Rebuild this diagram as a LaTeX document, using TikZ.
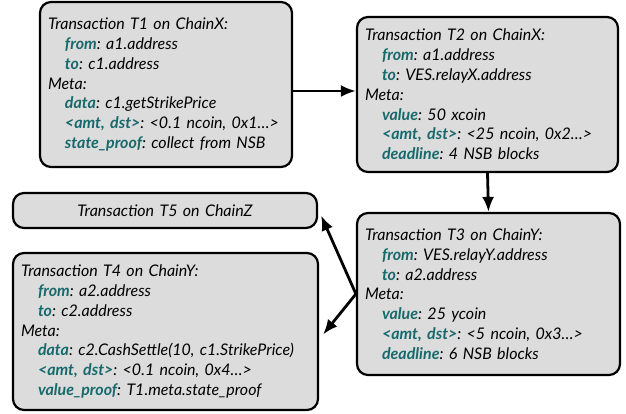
\documentclass[tikz,border=0pt]{standalone}
\usepackage{fontspec}
\setmainfont{Lato}
\usetikzlibrary{arrows.meta,calc}
\definecolor{boxfill}{HTML}{DCDCDC}
\definecolor{keyteal}{HTML}{17696B}
\newcommand{\kw}[1]{\textcolor{keyteal}{\bfseries #1}}
\newcommand{\ind}{\hspace*{17pt}}
\frenchspacing
\tikzset{
  txbox/.style={draw=black, line width=2.2pt, fill=boxfill, rounded corners=11pt,
    align=left, inner xsep=7pt, inner ysep=4pt, anchor=center,
    font=\itshape\fontsize{16}{19.8}\selectfont,
    execute at begin node=\frenchspacing},
  arr/.style={line width=2.8pt, -{Latex[length=15pt,width=12pt]}}
}
\begin{document}
\begin{tikzpicture}[x=1pt,y=1pt]
\useasboundingbox (0,0) rectangle (626,413);
\node[txbox, minimum width=252pt, minimum height=165pt, text width=236pt] (T1) at (166,328.5) {%
Transaction T1 on ChainX:\\
\ind\kw{from}: a1.address\\
\ind\kw{to}: c1.address\\
Meta:\\
\ind\kw{data}: c1.getStrikePrice\\
\ind\kw{<amt, dst>}: <0.1 ncoin, 0x1…>\\
\ind\kw{state\_proof}: collect from NSB};
\node[txbox, minimum width=261pt, minimum height=155pt, text width=245pt] (T2) at (487.5,318.5) {%
Transaction T2 on ChainX:\\
\ind\kw{from}: a1.address\\
\ind\kw{to}: VES.relayX.address\\
Meta:\\
\ind\kw{value}: 50 xcoin\\
\ind\kw{<amt, dst>}: <25 ncoin, 0x2…>\\
\ind\kw{deadline}: 4 NSB blocks};
\node[txbox, minimum width=263pt, minimum height=162pt, text width=247pt] (T3) at (488.5,119) {%
Transaction T3 on ChainY:\\
\ind\kw{from}: VES.relayY.address\\
\ind\kw{to}: a2.address\\
Meta:\\
\ind\kw{value}: 25 ycoin\\
\ind\kw{<amt, dst>}: <5 ncoin, 0x3…>\\
\ind\kw{deadline}: 6 NSB blocks};
\node[txbox, align=center, minimum width=304pt, minimum height=35pt, text width=288pt] (T5) at (165,202.5) {Transaction T5 on ChainZ};
\node[txbox, minimum width=305pt, minimum height=157pt, text width=289pt] (T4) at (165.5,81.5) {%
Transaction T4 on ChainY:\\
\ind\kw{from}: a2.address\\
\ind\kw{to}: c2.address\\
Meta:\\
\ind\kw{data}: c2.CashSettle(10, c1.StrikePrice)\\
\ind\kw{<amt, dst>}: <0.1 ncoin, 0x4…>\\
\ind\kw{value\_proof}: T1.meta.state\_proof};
\coordinate (lvl) at (0,322);
\draw[arr] (T1.east |- lvl) -- (T2.west |- lvl);
\draw[arr] (T2.south) -- (T3.north);
\draw[arr] (T3.west) -- ([shift={(3pt,-5pt)}]T5.east);
\draw[arr] (T3.west) -- ([shift={(4pt,-3pt)}]T4.east);
\end{tikzpicture}
\end{document}
